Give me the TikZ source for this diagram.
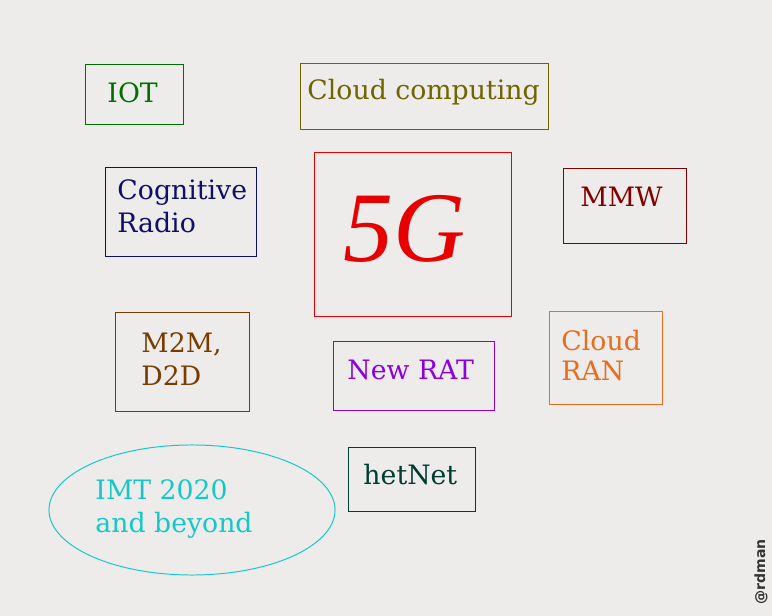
\documentclass[tikz,border=0pt]{standalone}
\usepackage{fontspec}
\setmainfont{DejaVu Serif}
\newfontfamily\tituloletra{Liberation Serif}
\setsansfont{DejaVu Sans}
\usetikzlibrary{shapes.geometric}

\definecolor{fondo}{RGB}{237,236,234}
\definecolor{ciot}{RGB}{0,110,0}
\definecolor{ccloud}{RGB}{110,100,0}
\definecolor{ccog}{RGB}{15,15,105}
\definecolor{cfive}{RGB}{230,0,0}
\definecolor{cmmw}{RGB}{130,0,0}
\definecolor{cmtm}{RGB}{120,60,0}
\definecolor{crat}{RGB}{140,0,220}
\definecolor{cran}{RGB}{230,110,30}
\definecolor{chet}{RGB}{0,60,50}
\definecolor{cimt}{RGB}{20,200,200}

\begin{document}
\begin{tikzpicture}[x=0.025cm,y=-0.025cm,line width=0.7pt,
  marco/.style={draw=#1,inner sep=0pt},
  texto/.style={text=#1,anchor=base west,inner sep=0pt,align=left,
    font=\fontsize{19}{23.5}\selectfont}]
  % fondo
  \fill[fondo] (0,0) rectangle (772,616);
  \useasboundingbox (0,0) rectangle (772,616);
  % cajas
  \node[marco=ciot,minimum width=2.425cm,minimum height=1.475cm] (iotbox) at (134.5,94.5) {};
  \node[marco=ccloud,minimum width=6.175cm,minimum height=1.625cm] (cloudbox) at (424.5,96.5) {};
  \node[marco=ccog,minimum width=3.75cm,minimum height=2.2cm] (cogbox) at (181,212) {};
  \node[marco=cfive,minimum width=4.9cm,minimum height=4.075cm] (fivebox) at (413,234.5) {};
  \node[marco=cmmw,minimum width=3.05cm,minimum height=1.85cm] (mmwbox) at (625,206) {};
  \node[marco=cmtm,minimum width=3.325cm,minimum height=2.45cm] (mtmbox) at (182.5,362) {};
  \node[marco=crat,minimum width=4cm,minimum height=1.7cm] (ratbox) at (414,376) {};
  \node[marco=cran,minimum width=2.8cm,minimum height=2.3cm] (ranbox) at (606,358) {};
  \node[marco=chet,minimum width=3.15cm,minimum height=1.575cm] (hetbox) at (412,479.5) {};
  \node[marco=cimt,ellipse,minimum width=7.15cm,minimum height=3.25cm] (imtbox) at (192,510) {};
  % textos (base = ultima linea)
  \node[texto=ciot] (iot) at (107,103) {IOT};
  \node[texto=ccloud] (cloud) at (307,100) {Cloud computing};
  \node[texto=ccog] (cog) at (117,233) {Cognitive\\Radio};
  \node[text=cfive,anchor=base west,inner sep=0pt,font=\tituloletra\itshape\fontsize{71}{71}\selectfont] (five) at (343,262) {5G};
  \node[texto=cmmw] (mmw) at (580,207) {MMW};
  \node[texto=cmtm] (mtm) at (141,386) {M2M,\\D2D};
  \node[texto=crat] (rat) at (347,380) {New RAT};
  \node[texto=cran] (ran) at (561,381) {Cloud\\[-2pt]RAN};
  \node[texto=chet] (het) at (363,485) {hetNet};
  \node[texto=cimt] (imt) at (95,533) {IMT 2020\\and beyond};
  % firma
  \node[rotate=90,text=black!80,inner sep=0pt,font=\sffamily\bfseries\fontsize{10}{10}\selectfont] (firma) at (761,572) {@rdman};
\end{tikzpicture}
\end{document}
